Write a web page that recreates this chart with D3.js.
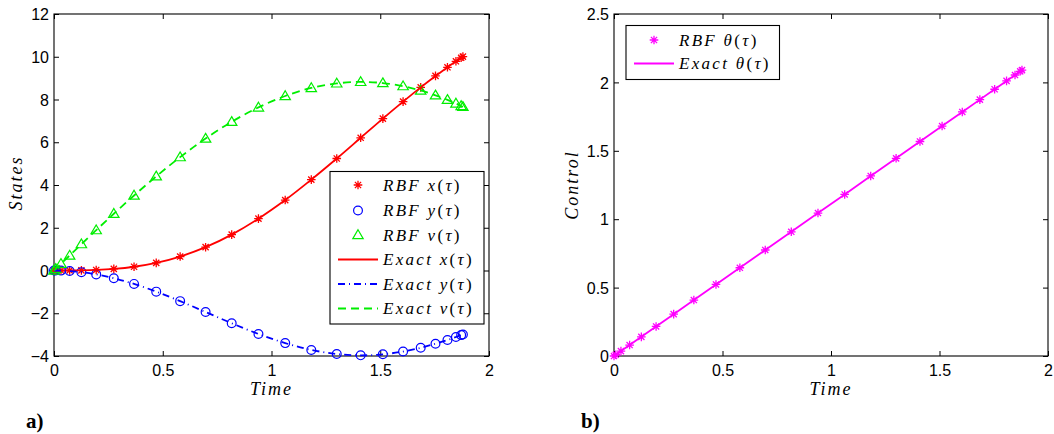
<!DOCTYPE html>
<html>
<head>
<meta charset="utf-8">
<script src="https://cdn.jsdelivr.net/npm/d3@7"></script>
<style>
  html, body { margin: 0; padding: 0; background: #fff; }
  svg { display: block; }
  .tick text { font-family: "Liberation Sans", Arial, sans-serif; font-size: 16px; fill: #000; }
  .tick line { stroke: #000; stroke-width: 1; }
  .domain { display: none; }
  .lbl { font-family: "Liberation Serif", "Times New Roman", serif; font-style: italic; font-size: 18px; letter-spacing: 2px; fill: #000; }
  .leg { font-family: "Liberation Serif", "Times New Roman", serif; font-style: italic; font-size: 17px; letter-spacing: 2.3px; fill: #000; }
  .up { font-style: normal; }
  .panel { font-family: "Liberation Serif", "Times New Roman", serif; font-weight: bold; font-size: 21px; fill: #000; }
</style>
</head>
<body>
<svg id="chart" width="1054" height="434"></svg>
<script>
// ---- data ----
const times  = [0, 0.008, 0.032, 0.072, 0.126, 0.194, 0.275, 0.368, 0.470, 0.580, 0.697, 0.817, 0.940, 1.063, 1.183, 1.300, 1.410, 1.512, 1.605, 1.686, 1.754, 1.809, 1.848, 1.872, 1.880];
const xState = [0, 0, 0, 0.001, 0.007, 0.026, 0.074, 0.175, 0.358, 0.653, 1.091, 1.680, 2.425, 3.295, 4.251, 5.240, 6.208, 7.107, 7.900, 8.569, 9.103, 9.507, 9.787, 9.951, 10.005];
const yState = [0, -0.0003, -0.005, -0.025, -0.077, -0.182, -0.360, -0.628, -0.989, -1.434, -1.943, -2.468, -2.970, -3.397, -3.716, -3.906, -3.969, -3.921, -3.791, -3.615, -3.425, -3.250, -3.111, -3.022, -2.992];
const vState = [0, 0.079, 0.315, 0.701, 1.232, 1.888, 2.656, 3.510, 4.404, 5.303, 6.174, 6.957, 7.629, 8.165, 8.539, 8.753, 8.824, 8.770, 8.624, 8.422, 8.196, 7.985, 7.814, 7.696, 7.657];
const theta  = [0, 0.009, 0.036, 0.080, 0.140, 0.216, 0.306, 0.409, 0.523, 0.645, 0.775, 0.908, 1.045, 1.181, 1.316, 1.445, 1.568, 1.681, 1.784, 1.874, 1.950, 2.011, 2.054, 2.081, 2.090];

const xTicks = [0, 0.5, 1, 1.5, 2];
const statesTicks = [-4, -2, 0, 2, 4, 6, 8, 10, 12];
const controlTicks = [0, 0.5, 1, 1.5, 2, 2.5];

const leftLegend = [
  {name: "RBF", v: "x", kind: "star", color: "#ff0000"},
  {name: "RBF", v: "y", kind: "circle", color: "#0000ff"},
  {name: "RBF", v: "v", kind: "tri", color: "#00ee00"},
  {name: "Exact", v: "x", kind: "solid", color: "#ff0000"},
  {name: "Exact", v: "y", kind: "dashdot", color: "#0000ff"},
  {name: "Exact", v: "v", kind: "dash", color: "#00ee00"}
];
const rightLegend = [
  {name: "RBF", v: "θ", kind: "star", color: "#ff00ff"},
  {name: "Exact", v: "θ", kind: "solid", color: "#ff00ff"}
];

// ---- helpers ----
const svg = d3.select("#chart");
const dashes = {solid: null, dashdot: "7,4,1,4", dash: "8,5"};

function starPath(s) {
  const d = s * 0.72;
  return `M${-s},0L${s},0M0,${-s}L0,${s}M${-d},${-d}L${d},${d}M${-d},${d}L${d},${-d}`;
}
function drawMarker(g, kind, color, x, y) {
  if (kind === "star") {
    g.append("path").attr("d", starPath(4.3)).attr("transform", `translate(${x},${y})`)
      .attr("stroke", color).attr("stroke-width", 1.3).attr("fill", "none");
  } else if (kind === "circle") {
    g.append("circle").attr("cx", x).attr("cy", y).attr("r", 4.4)
      .attr("stroke", color).attr("stroke-width", 1.2).attr("fill", "none");
  } else if (kind === "tri") {
    g.append("path").attr("d", "M0,-5.2L5.2,3.6L-5.2,3.6Z").attr("transform", `translate(${x},${y})`)
      .attr("stroke", color).attr("stroke-width", 1.2).attr("fill", "none");
  }
}

function makeAxes(g, xs, ys, yTickVals) {
  const fmt = d3.format("~g");
  const w = xs.range()[1] - xs.range()[0];
  const h = ys.range()[0] - ys.range()[1];
  g.append("g").attr("transform", `translate(0,${h})`)
    .call(d3.axisBottom(xs).tickValues(xTicks).tickFormat(fmt).tickSizeInner(-5).tickSizeOuter(0).tickPadding(9));
  g.append("g")
    .call(d3.axisTop(xs).tickValues(xTicks).tickFormat("").tickSizeInner(-5).tickSizeOuter(0));
  g.append("g")
    .call(d3.axisLeft(ys).tickValues(yTickVals).tickFormat(fmt).tickSizeInner(-5).tickSizeOuter(0).tickPadding(5))
    .selectAll("text").attr("dy", "0.35em");
  g.append("g").attr("transform", `translate(${w},0)`)
    .call(d3.axisRight(ys).tickValues(yTickVals).tickFormat("").tickSizeInner(-5).tickSizeOuter(0));
  g.append("rect").attr("x", 0).attr("y", 0).attr("width", w).attr("height", h)
    .attr("fill", "none").attr("stroke", "#000").attr("stroke-width", 1.1);
}

function legendText(g, x, y, item) {
  const t = g.append("text").attr("class", "leg").attr("x", x).attr("y", y).attr("dy", "0.33em");
  t.append("tspan").text(item.name + " " + item.v);
  t.append("tspan").attr("class", "up").text("(");
  t.append("tspan").text("τ");
  t.append("tspan").attr("class", "up").text(")");
}

function drawLegend(g, items, bx, by, bw, bh, rows) {
  g.append("rect").attr("x", bx).attr("y", by).attr("width", bw).attr("height", bh)
    .attr("fill", "#fff").attr("stroke", "#000").attr("stroke-width", 1.1);
  items.forEach((it, i) => {
    const cy = rows[i];
    if (it.kind === "solid" || it.kind === "dashdot" || it.kind === "dash") {
      g.append("line").attr("x1", bx + 8).attr("x2", bx + 48).attr("y1", cy).attr("y2", cy)
        .attr("stroke", it.color).attr("stroke-width", 1.8).attr("stroke-dasharray", dashes[it.kind]);
    } else {
      drawMarker(g, it.kind, it.color, bx + 28, cy);
    }
    legendText(g, bx + 53, cy, it);
  });
}

// ---- left panel ----
const L = {x0: 54, x1: 489, y0: 14, y1: 356};
const gL = svg.append("g").attr("transform", `translate(${L.x0},${L.y0})`);
const xL = d3.scaleLinear().domain([0, 2]).range([0, L.x1 - L.x0]);
const yL = d3.scaleLinear().domain([-4, 12]).range([L.y1 - L.y0, 0]);
makeAxes(gL, xL, yL, statesTicks);

const series = [
  {vals: xState, color: "#ff0000", kind: "star", dash: "solid"},
  {vals: yState, color: "#0000ff", kind: "circle", dash: "dashdot"},
  {vals: vState, color: "#00ee00", kind: "tri", dash: "dash"}
];
series.forEach(s => {
  const gm = gL.append("g");
  times.forEach((t, i) => drawMarker(gm, s.kind, s.color, xL(t), yL(s.vals[i])));
});
series.forEach(s => {
  const line = d3.line().x((t) => xL(t)).y((t, i) => yL(s.vals[i])).curve(d3.curveCatmullRom.alpha(0.5));
  gL.append("path").attr("d", line(times)).attr("fill", "none").attr("stroke", s.color)
    .attr("stroke-width", 1.8).attr("stroke-dasharray", dashes[s.dash]);
});

drawLegend(gL, leftLegend, 330 - L.x0, 171.5 - L.y0, 154, 152.5,
  [185, 210.5, 235, 259.5, 284, 308.5].map(v => v - L.y0));

gL.append("text").attr("class", "lbl").attr("x", xL(1)).attr("y", 395 - L.y0).attr("text-anchor", "middle").text("Time");
gL.append("text").attr("class", "lbl").attr("text-anchor", "middle")
  .attr("transform", `translate(${22 - L.x0},${183 - L.y0}) rotate(-90)`).text("States");

svg.append("text").attr("class", "panel").attr("x", 26).attr("y", 428).text("a)");

// ---- right panel ----
const R = {x0: 614, x1: 1048, y0: 14, y1: 356};
const gR = svg.append("g").attr("transform", `translate(${R.x0},${R.y0})`);
const xR = d3.scaleLinear().domain([0, 2]).range([0, R.x1 - R.x0]);
const yR = d3.scaleLinear().domain([0, 2.5]).range([R.y1 - R.y0, 0]);
makeAxes(gR, xR, yR, controlTicks);

const gmR = gR.append("g");
times.forEach((t, i) => drawMarker(gmR, "star", "#ff00ff", xR(t), yR(theta[i])));
const lineR = d3.line().x(t => xR(t)).y((t, i) => yR(theta[i]));
gR.append("path").attr("d", lineR(times)).attr("fill", "none").attr("stroke", "#ff00ff").attr("stroke-width", 1.8);

drawLegend(gR, rightLegend, 626 - R.x0, 25.5 - R.y0, 153.5, 54, [40, 63.5].map(v => v - R.y0));

gR.append("text").attr("class", "lbl").attr("x", xR(1)).attr("y", 395 - R.y0).attr("text-anchor", "middle").text("Time");
gR.append("text").attr("class", "lbl").attr("text-anchor", "middle")
  .attr("transform", `translate(${578 - R.x0},${185 - R.y0}) rotate(-90)`).text("Control");

svg.append("text").attr("class", "panel").attr("x", 581).attr("y", 428).text("b)");
</script>
</body>
</html>
